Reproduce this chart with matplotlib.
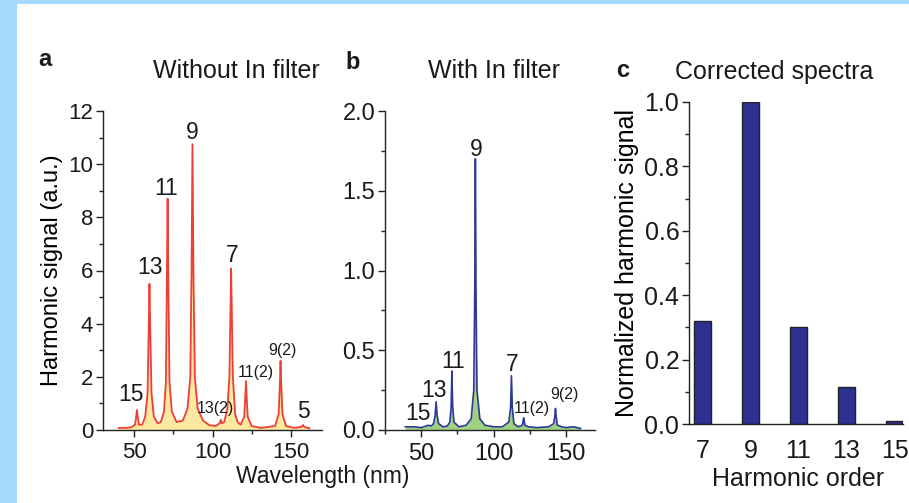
import matplotlib
matplotlib.use('Agg')
import matplotlib.pyplot as plt
from matplotlib.patches import Rectangle
from matplotlib.ticker import MultipleLocator

plt.rcParams['font.family'] = ['Liberation Sans', 'DejaVu Sans']
plt.rcParams['text.color'] = '#1a1a1a'

W, H = 909, 503

# panel a: spectrum without In filter (wavelength nm, signal a.u.)
wl_a = [40, 45, 48, 50.5, 51.2, 51.7, 52.2, 53, 55, 57, 58.5, 59.2, 59.7, 60.2, 61, 62.5, 65,
        67, 69, 70.2, 70.8, 71.3, 71.8, 72.5, 74, 77, 81, 84, 85.8, 86.6, 87.2, 87.8, 88.7,
        90.5, 94, 98, 102, 104.5, 105.3, 106, 107.5, 109.5, 110.8, 111.4, 111.9, 112.4, 113,
        114.5, 116, 118, 120.3, 121, 121.4, 121.8, 122.5, 125, 131, 140, 142.3, 143.1, 143.5,
        143.9, 144.7, 147, 152, 157, 157.8, 158.6, 162]
sig_a = [0.08, 0.08, 0.1, 0.2, 0.5, 0.75, 0.5, 0.2, 0.2, 0.5, 1.4, 3.8, 5.5, 3.8, 1.4, 0.5, 0.25,
         0.3, 0.7, 1.8, 5.5, 8.7, 5.5, 1.8, 0.7, 0.3, 0.35, 0.8, 2.0, 6.0, 10.75, 6.0, 2.0,
         0.8, 0.35, 0.18, 0.15, 0.25, 0.38, 0.25, 0.3, 0.8, 2.0, 4.2, 6.08, 4.2, 2.0,
         0.6, 0.3, 0.2, 0.5, 1.3, 1.84, 1.3, 0.5, 0.15, 0.08, 0.15, 0.6, 1.8, 2.6,
         1.8, 0.6, 0.15, 0.08, 0.12, 0.19, 0.12, 0.06]

# panel b: spectrum with In filter
wl_b = [39, 45, 50, 55, 57, 58.5, 59.6, 60.3, 61, 62, 65, 68, 69.8, 70.7, 71.2, 71.7, 72.6, 76,
        81, 84.5, 86.3, 87.0, 87.4, 87.8, 88.5, 90.5, 94, 100, 106, 110.5, 111.7, 112.3, 112.9,
        114, 117, 119.8, 120.8, 121.6, 124, 130, 138, 141.5, 142.3, 142.7, 143.1, 144, 147,
        150, 155, 160]
sig_b = [0.02, 0.02, 0.015, 0.03, 0.025, 0.04, 0.09, 0.177, 0.09, 0.04, 0.02, 0.025, 0.05, 0.15,
         0.37, 0.15, 0.05, 0.02, 0.03, 0.07, 0.25, 0.9, 1.70, 0.9, 0.25, 0.07, 0.03, 0.02, 0.02,
         0.05, 0.14, 0.34, 0.14, 0.04, 0.02, 0.03, 0.077, 0.03, 0.02, 0.015, 0.02, 0.04, 0.09,
         0.135, 0.09, 0.03, 0.02, 0.015, 0.02, 0.01]

# peak labels: text, x, y
lab_a = ["15", "13", "11", "9", "7", "13(2)", "11(2)", "9(2)", "5"]
lab_a_x = [47.9, 60.1, 70.6, 86.8, 112.6, 101.6, 127.4, 144.6, 158.4]
lab_a_y = [1.32, 6.1, 9.07, 11.2, 6.58, 0.79, 2.16, 3.0, 0.69]
lab_b = ["15", "13", "11", "9", "7", "11(2)", "9(2)"]
lab_b_x = [47.7, 59.1, 71.9, 87.9, 113.0, 126.7, 148.8]
lab_b_y = [0.105, 0.25, 0.43, 1.76, 0.41, 0.136, 0.22]

# panel c: corrected spectra
orders = [7, 9, 11, 13, 15]
norm_signal = [0.32, 1.0, 0.30, 0.115, 0.01]


def fx(x):
    return x / W


def fy(y):
    return 1 - y / H


def style(ax, size):
    for s in ['top', 'right']:
        ax.spines[s].set_visible(False)
    for s in ['left', 'bottom']:
        ax.spines[s].set_linewidth(1.0)
        ax.spines[s].set_color('#222222')
    ax.tick_params(which='major', direction='out', length=5, width=1, labelsize=size,
                   colors='#222222', labelcolor='#1a1a1a', pad=2)
    ax.tick_params(which='minor', direction='out', length=3, width=1, colors='#222222')


fig = plt.figure(figsize=(W / 100, H / 100), dpi=100)
fig.patch.set_facecolor('#a3dafd')
fig.patches.append(Rectangle((fx(17), 0), 1 - fx(17), fy(4), transform=fig.transFigure,
                             facecolor='white', edgecolor='none', zorder=-10))

# ---- a
ax1 = fig.add_axes([fx(103), fy(430), fx(322 - 103), (430 - 111) / H])
ax1.patch.set_alpha(0)
ax1.fill_between(wl_a, sig_a, 0, color='#fbe9a3', lw=0)
ax1.plot(wl_a, sig_a, color='#ee2a24', lw=1.3, alpha=0.9)
ax1.set_xlim(30, 170)
ax1.set_ylim(0, 12)
ax1.xaxis.set_major_locator(MultipleLocator(50))
ax1.xaxis.set_minor_locator(MultipleLocator(25))
ax1.yaxis.set_major_locator(MultipleLocator(2))
ax1.yaxis.set_minor_locator(MultipleLocator(1))
style(ax1, 16)
ax1.tick_params(axis='x', pad=4)
ax1.set_ylabel("Harmonic signal (a.u.)", fontsize=17, labelpad=4)
for t, x, y in zip(lab_a, lab_a_x, lab_a_y):
    fs = 11.5 if "(" in t else 16.5
    ax1.text(x, y, t, ha='center', va='center', fontsize=fs)

# ---- b
ax2 = fig.add_axes([fx(385), fy(430), fx(595 - 385), (430 - 111) / H])
ax2.patch.set_alpha(0)
ax2.fill_between(wl_b, sig_b, 0, color='#9fd17f', lw=0)
ax2.plot(wl_b, sig_b, color='#2b3a96', lw=1.2)
ax2.set_xlim(25, 170)
ax2.set_ylim(0, 2.0)
ax2.xaxis.set_major_locator(MultipleLocator(50))
ax2.xaxis.set_minor_locator(MultipleLocator(25))
ax2.yaxis.set_major_locator(MultipleLocator(0.5))
ax2.yaxis.set_minor_locator(MultipleLocator(0.25))
ax2.yaxis.set_major_formatter(matplotlib.ticker.FormatStrFormatter('%.1f'))
style(ax2, 17)
ax2.tick_params(axis='x', pad=4)
for t, x, y in zip(lab_b, lab_b_x, lab_b_y):
    fs = 11.5 if "(" in t else 16.5
    ax2.text(x, y, t, ha='center', va='center', fontsize=fs)

# ---- c
ax3 = fig.add_axes([fx(689), fy(424), fx(903 - 689), (424 - 102) / H])
ax3.patch.set_alpha(0)
ax3.bar(orders, norm_signal, width=0.7, color='#2e3192', edgecolor='#222222', lw=1.0)
ax3.set_xlim(6.45, 15.35)
ax3.set_ylim(0, 1.0)
ax3.set_xticks(orders)
ax3.yaxis.set_major_locator(MultipleLocator(0.2))
ax3.yaxis.set_minor_locator(MultipleLocator(0.1))
ax3.yaxis.set_major_formatter(matplotlib.ticker.FormatStrFormatter('%.1f'))
style(ax3, 18)
ax3.tick_params(axis='x', length=0, pad=11)
ax3.set_ylabel("Normalized harmonic signal", fontsize=18, labelpad=4)

# figure texts
fig.text(fx(45), fy(66), "a", fontsize=17, fontweight='bold', ha='center', va='baseline')
fig.text(fx(353), fy(69), "b", fontsize=17, fontweight='bold', ha='center', va='baseline')
fig.text(fx(623), fy(77), "c", fontsize=17, fontweight='bold', ha='center', va='baseline')
fig.text(fx(236), fy(78), "Without In filter", fontsize=18, ha='center', va='baseline')
fig.text(fx(494), fy(78), "With In filter", fontsize=18, ha='center', va='baseline')
fig.text(fx(774), fy(79), "Corrected spectra", fontsize=18, ha='center', va='baseline')
fig.text(fx(323), fy(476), "Wavelength (nm)", fontsize=16.5, ha='center', va='center')
fig.text(fx(798), fy(479), "Harmonic order", fontsize=18, ha='center', va='center')

fig.savefig('out.png', dpi=100, facecolor=fig.get_facecolor())
